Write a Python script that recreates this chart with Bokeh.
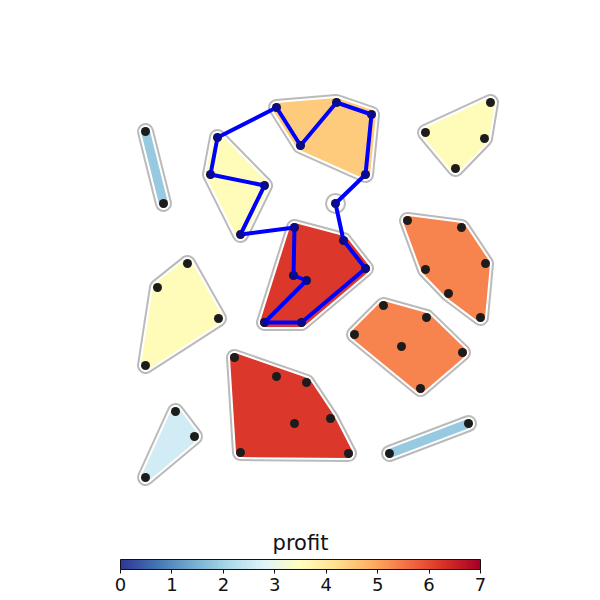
import numpy as np
from bokeh.plotting import figure
from bokeh.models import ColumnDataSource, LinearColorMapper, ColorBar, FixedTicker, Range1d, Label
from bokeh.transform import transform
from bokeh.embed import file_html
from bokeh.resources import INLINE

# ---- data ----
cluster_names = ["A", "B", "C", "D", "E", "F", "G", "H", "I", "J", "K", "L"]
cluster_x = [
    [1.125, 1.575],
    [2.925, 2.75, 4.1, 3.5],
    [4.4, 5.0, 5.9, 6.775, 6.625],
    [5.875],
    [4.85, 6.075, 6.625, 4.825, 5.15, 4.1, 5.025],
    [9.75, 8.125, 9.6, 8.875],
    [7.675, 9.025, 9.625, 8.125, 8.7, 9.5],
    [2.175, 1.425, 2.95, 1.125],
    [7.075, 8.15, 6.35, 7.525, 9.05, 8.0],
    [3.35, 4.4, 5.15, 4.85, 5.75, 3.5, 6.2],
    [1.875, 2.35, 1.125],
    [9.2, 7.225],
]
cluster_y = [
    [9.225, 7.425],
    [9.075, 8.15, 7.875, 6.65],
    [9.825, 8.875, 9.95, 9.65, 8.15],
    [7.425],
    [6.825, 6.5, 5.8, 5.625, 5.5, 4.45, 4.45],
    [9.95, 9.2, 9.05, 8.3],
    [7.0, 6.825, 5.925, 5.775, 5.175, 4.575],
    [5.925, 5.325, 4.55, 3.375],
    [4.875, 4.575, 4.15, 3.85, 3.7, 2.8],
    [3.575, 3.1, 2.95, 1.925, 2.05, 1.2, 1.175],
    [2.225, 1.6, 0.575],
    [1.925, 1.175],
]
profit = [1.85, 3.6, 4.5, 3.0, 6.2, 3.6, 5.35, 3.6, 5.35, 6.2, 2.6, 1.85]

route_x = [5.0, 5.9, 6.775, 6.625, 5.875, 6.075, 6.625, 5.025, 4.1, 5.15, 4.825,
           4.85, 3.5, 4.1, 2.75, 2.925, 4.4, 5.0]
route_y = [8.875, 9.95, 9.65, 8.15, 7.425, 6.5, 5.8, 4.45, 4.45, 5.5, 5.625,
           6.825, 6.65, 7.875, 8.15, 9.075, 9.825, 8.875]

colorbar_ticks = [0, 1, 2, 3, 4, 5, 6, 7]

# ---- helpers ----
def hull(xs, ys):
    pts = sorted(set(zip(xs, ys)))
    if len(pts) <= 2:
        return [p[0] for p in pts], [p[1] for p in pts]

    def cross(o, a, b):
        return (a[0] - o[0]) * (b[1] - o[1]) - (a[1] - o[1]) * (b[0] - o[0])

    lower = []
    for p in pts:
        while len(lower) >= 2 and cross(lower[-2], lower[-1], p) <= 0:
            lower.pop()
        lower.append(p)
    upper = []
    for p in reversed(pts):
        while len(upper) >= 2 and cross(upper[-2], upper[-1], p) <= 0:
            upper.pop()
        upper.append(p)
    h = lower[:-1] + upper[:-1]
    return [p[0] for p in h], [p[1] for p in h]

anchors = ['#313695', '#4575b4', '#74add1', '#abd9e9', '#e0f3f8', '#ffffbf',
           '#fee090', '#fdae61', '#f46d43', '#d73027', '#a50026']
rgb = np.array([[int(c[i:i + 2], 16) for i in (1, 3, 5)] for c in anchors], float)
t = np.linspace(0, 1, 256)
pos = np.linspace(0, 1, len(anchors))
palette = ['#%02x%02x%02x' % tuple(int(round(np.interp(v, pos, rgb[:, k]))) for k in range(3)) for v in t]

mapper = LinearColorMapper(palette=palette, low=0, high=7)

poly_xs, poly_ys, poly_p = [], [], []
single_x, single_y = [], []
for xs, ys, pr in zip(cluster_x, cluster_y, profit):
    if len(xs) == 1:
        single_x.append(xs[0]); single_y.append(ys[0])
        continue
    hx, hy = hull(xs, ys)
    poly_xs.append(hx); poly_ys.append(hy); poly_p.append(pr)

poly_src = ColumnDataSource(dict(xs=poly_xs, ys=poly_ys, profit=poly_p))
all_x = [v for xs in cluster_x for v in xs]
all_y = [v for ys in cluster_y for v in ys]

p = figure(width=600, height=600, output_backend="svg", toolbar_location=None,
           x_range=Range1d(-2.5, 12.5), y_range=Range1d(-2.5, 12.5),
           min_border=0, min_border_left=0, min_border_right=0,
           min_border_top=0, min_border_bottom=0)
p.axis.visible = False
p.grid.visible = False
p.outline_line_color = None
p.background_fill_color = "white"

p.patches("xs", "ys", source=poly_src, fill_color="#bababa", line_color="#bababa",
          line_width=17, line_join="round")
p.patches("xs", "ys", source=poly_src, fill_color="white", line_color="white",
          line_width=13, line_join="round")
p.patches("xs", "ys", source=poly_src, fill_color=transform("profit", mapper),
          line_color=transform("profit", mapper), line_width=9, line_join="round")

p.scatter(single_x, single_y, size=19, fill_color="white", line_color="#bababa", line_width=2)

p.scatter(all_x, all_y, size=9, fill_color="#1c1c1c", line_color=None)
p.line(route_x, route_y, line_color="#0000ff", line_width=4, line_join="round")
p.scatter(route_x, route_y, size=8, fill_color="#0a0a8a", line_color=None, fill_alpha=0.8)

cb = ColorBar(color_mapper=mapper, orientation="horizontal", location=(120, 7),
              width=360, height=10, padding=0,
              ticker=FixedTicker(ticks=colorbar_ticks),
              major_label_text_font="DejaVu Sans", major_label_text_font_size="18px",
              major_label_text_color="#111111",
              major_tick_out=4, major_tick_in=0, major_tick_line_color="#111111",
              bar_line_color="#111111", bar_line_width=1,
              label_standoff=4, background_fill_color=None,
              border_line_color=None)
p.add_layout(cb, "center")

title = Label(x=300, y=58, x_units="screen", y_units="screen", text="profit",
              text_align="center", text_baseline="alphabetic",
              text_font="DejaVu Sans", text_font_size="21px", text_color="#111111")
p.add_layout(title)

open("out.html", "w").write(file_html(p, INLINE))
